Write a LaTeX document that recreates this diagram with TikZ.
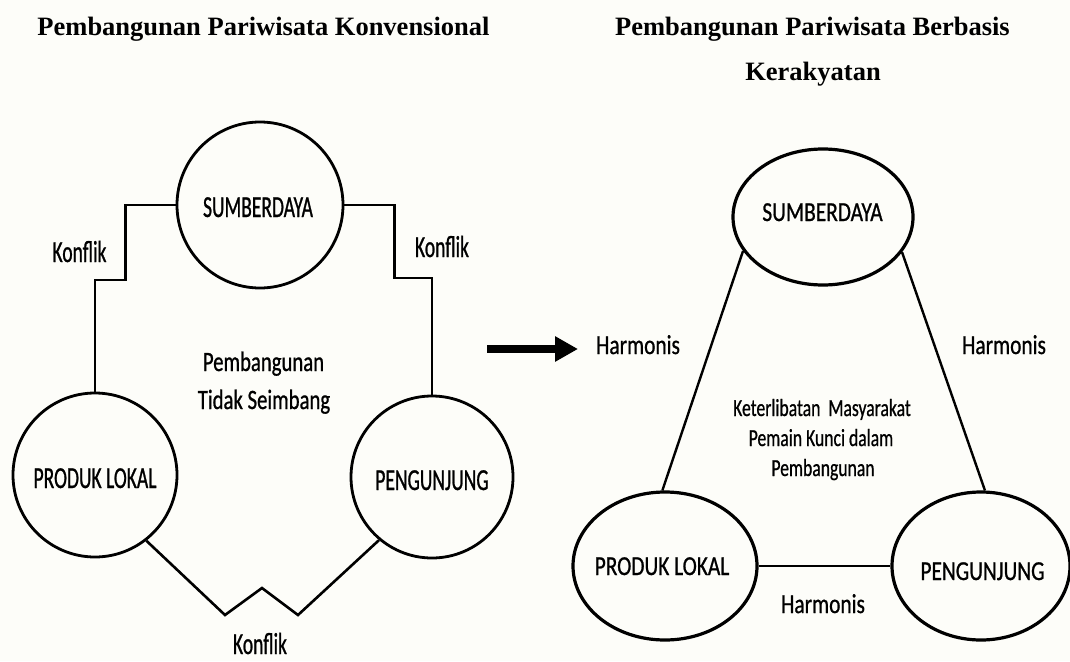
\documentclass[tikz,border=0pt]{standalone}
\usepackage{fontspec}
\setmainfont{Liberation Serif}
\newfontfamily\calA[FakeStretch=0.64,FakeBold=0.8]{Carlito}
\newfontfamily\calB[FakeStretch=0.74,FakeBold=0.8]{Carlito}
\newfontfamily\calC[FakeStretch=0.78,FakeBold=0.8]{Carlito}
\newfontfamily\calD[FakeStretch=0.72,FakeBold=0.7]{Carlito}
\usetikzlibrary{shapes.geometric,arrows.meta}
\definecolor{bg}{RGB}{253,253,249}
\begin{document}
\begin{tikzpicture}[x=1pt,y=-1pt,
  heading/.style={font=\bfseries\fontsize{26.5}{30}\selectfont, anchor=base, inner sep=0},
  circ/.style={circle, draw, line width=2.8pt, inner sep=0},
  ell/.style={ellipse, draw, line width=3.2pt, inner sep=0},
  lblA/.style={font=\calA\fontsize{30.5}{34}\selectfont, anchor=base, inner sep=0},
  lblB/.style={font=\calB\fontsize{28}{32}\selectfont, anchor=base, inner sep=0},
  lblC/.style={font=\calC\fontsize{27.4}{31}\selectfont, anchor=base, inner sep=0},
  lblD/.style={font=\calD\fontsize{24.5}{28}\selectfont, anchor=base, inner sep=0},
  conA/.style={line width=2.6pt, line join=miter},
  conB/.style={line width=2.4pt},
]
\useasboundingbox[fill=bg] (0,0) rectangle (1070,661);

% headings
\node[heading] (h1) at (263.5,36) {Pembangunan Pariwisata Konvensional};
\node[heading] (h2) at (812.5,36) {Pembangunan Pariwisata Berbasis};
\node[heading] (h3) at (813,80) {Kerakyatan};

% left diagram
\node[circ, minimum size=166pt] (s1) at (260,205) {};
\node[circ, minimum size=164pt] (p1) at (95,475) {};
\node[circ, minimum size=162pt] (g1) at (432,477) {};
\node[lblA] (s1t) at (258,217) {SUMBERDAYA};
\node[lblA] (p1t) at (95,488) {PRODUK LOKAL};
\node[lblA] (g1t) at (432,490) {PENGUNJUNG};

\draw[conA] (s1.west) -- ++(-50,0) -- ++(0,75) -| (p1.north);
\draw[conA] (s1.east) -- ++(50,0) -- ++(0,73) -| (g1.north);
\draw[conA] (p1.-52) -- (225,615) -- (262,588) -- (298,615) -- (g1.230);

\node[lblA] (k1) at (79.5,262) {Konflik};
\node[lblA] (k2) at (442,257) {Konflik};
\node[lblA] (k3) at (260,654) {Konflik};
\node[lblB] (m1) at (263.5,371) {Pembangunan};
\node[lblB] (m2) at (264,409) {Tidak Seimbang};

% arrow
\coordinate (a0) at (487,349);
\coordinate (a1) at (578,349);
\draw[line width=8pt, -{Triangle[length=23pt,width=24pt]}] (a0) -- (a1);

% right diagram
\node[ell, minimum width=180pt, minimum height=136pt] (s2) at (823,217) {};
\node[ell, minimum width=184pt, minimum height=148pt] (p2) at (665,566) {};
\node[ell, minimum width=178pt, minimum height=148pt] (g2) at (981,566) {};
\node[lblC] (s2t) at (822.5,221) {SUMBERDAYA};
\node[lblC] (p2t) at (662,575) {PRODUK LOKAL};
\node[lblC] (g2t) at (982.5,580) {PENGUNJUNG};

\draw[conB] (s2.203) -- (p2.92);
\draw[conB] (s2.-24) -- (g2.87);
\draw[conB] (p2.east) -- (g2.west);

\node[lblC] (hm1) at (638,354) {Harmonis};
\node[lblC] (hm2) at (1004,354) {Harmonis};
\node[lblC] (hm3) at (823,613) {Harmonis};
\node[lblD] (c1) at (822,416) {Keterlibatan\ \ Masyarakat};
\node[lblD] (c2) at (821,446) {Pemain Kunci dalam};
\node[lblD] (c3) at (823,476) {Pembangunan};
\end{tikzpicture}
\end{document}
